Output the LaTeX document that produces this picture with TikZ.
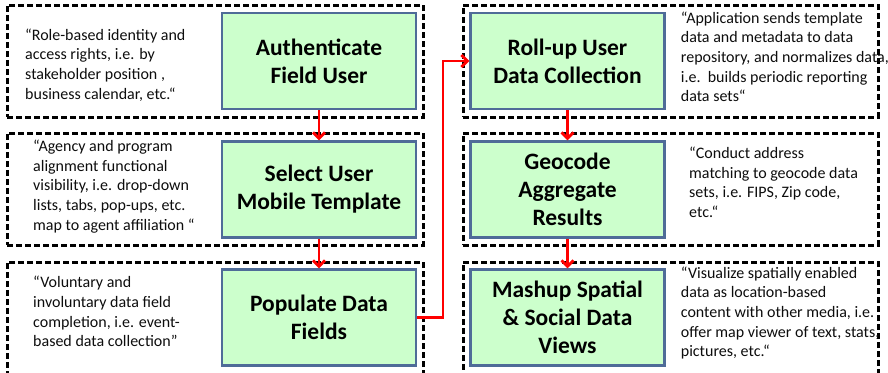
\documentclass[tikz,border=0pt]{standalone}
\usepackage{fontspec}
\setmainfont{Carlito}
\usetikzlibrary{arrows.meta}

\definecolor{boxfill}{HTML}{CCFFCC}
\definecolor{boxline}{HTML}{4F6C98}
\definecolor{flowred}{HTML}{FF0000}

\tikzset{
  frame/.style={draw=black, line width=3pt, dash pattern=on 6pt off 3pt,
    minimum width=416pt, minimum height=112pt, inner sep=0pt},
  stage/.style={draw=boxline, line width=2.2pt, fill=boxfill, align=center,
    minimum width=194pt, minimum height=96pt, inner sep=0pt,
    font=\fontsize{23.5}{28}\selectfont\bfseries, text=black},
  % base anchor of a multi-line note sits on its last line
  note/.style={anchor=base west, align=left, inner sep=0pt,
    font=\fontsize{16}{19.6}\selectfont, text=black!95},
  flow/.style={draw=flowred, line width=2.8pt,
    -{Straight Barb[length=6pt,width=12pt]}},
}

\begin{document}
\begin{tikzpicture}[x=1pt, y=-1pt]
  \useasboundingbox (0,0) rectangle (888,372);
  \clip (0,0) rectangle (888,372);

  % dashed frames around each step
  \node[frame] (f1) at (215,61) {};
  \node[frame] (f2) at (215,189) {};
  \node[frame] (f3) at (215,318) {};
  \node[frame, minimum width=415pt] (f4) at (670.5,61) {};
  \node[frame, minimum width=415pt] (f5) at (670.5,189) {};
  \node[frame, minimum width=415pt] (f6) at (670.5,318) {};

  % process steps
  \node[stage] (auth) at (319,61)    {Authenticate\\Field User};
  \node[stage] (sel)  at (319,189.5) {Select User\\Mobile Template};
  \node[stage] (pop)  at (319,317.5) {Populate Data\\Fields};
  \node[stage] (roll) at (567.5,61)    {Roll-up User\\Data Collection};
  \node[stage] (geo)  at (567.5,189.5) {Geocode\\Aggregate\\Results};
  \node[stage] (mash) at (567.5,317.5) {Mashup Spatial\\\& Social Data\\Views};

  % descriptions
  \node[note] (n1) at (25,99) {“Role-based identity and\\access rights, i.e. by\\stakeholder position ,\\business calendar, etc.“};
  \node[note] (n2) at (33,230) {“Agency and program\\alignment functional\\visibility, i.e. drop-down\\lists, tabs, pop-ups, etc.\\map to agent affiliation “};
  \node[note] (n3) at (33,346.7) {“Voluntary and\\involuntary data field\\completion, i.e. event-\\based data collection”};
  \node[note] (n4) at (680.7,101.7) {“Application sends template\\data and metadata to data\\repository, and normalizes data,\\i.e.\ \ builds periodic reporting\\data sets“};
  \node[note] (n5) at (689,217.3) {“Conduct address\\matching to geocode data\\sets, i.e. FIPS, Zip code,\\etc.“};
  \node[note] (n6) at (680.7,356.7) {“Visualize spatially enabled\\data as location-based\\content with other media, i.e.\\offer map viewer of text, stats,\\pictures, etc.“};

  % flow between steps
  \coordinate (bend) at (443,0);
  \draw[flow] (auth) -- (sel);
  \draw[flow] (sel) -- (pop);
  \draw[flow] (pop.east) -- (pop.east -| bend) |- (roll.west);
  \draw[flow] (roll) -- (geo);
  \draw[flow] (geo) -- (mash);
\end{tikzpicture}
\end{document}
